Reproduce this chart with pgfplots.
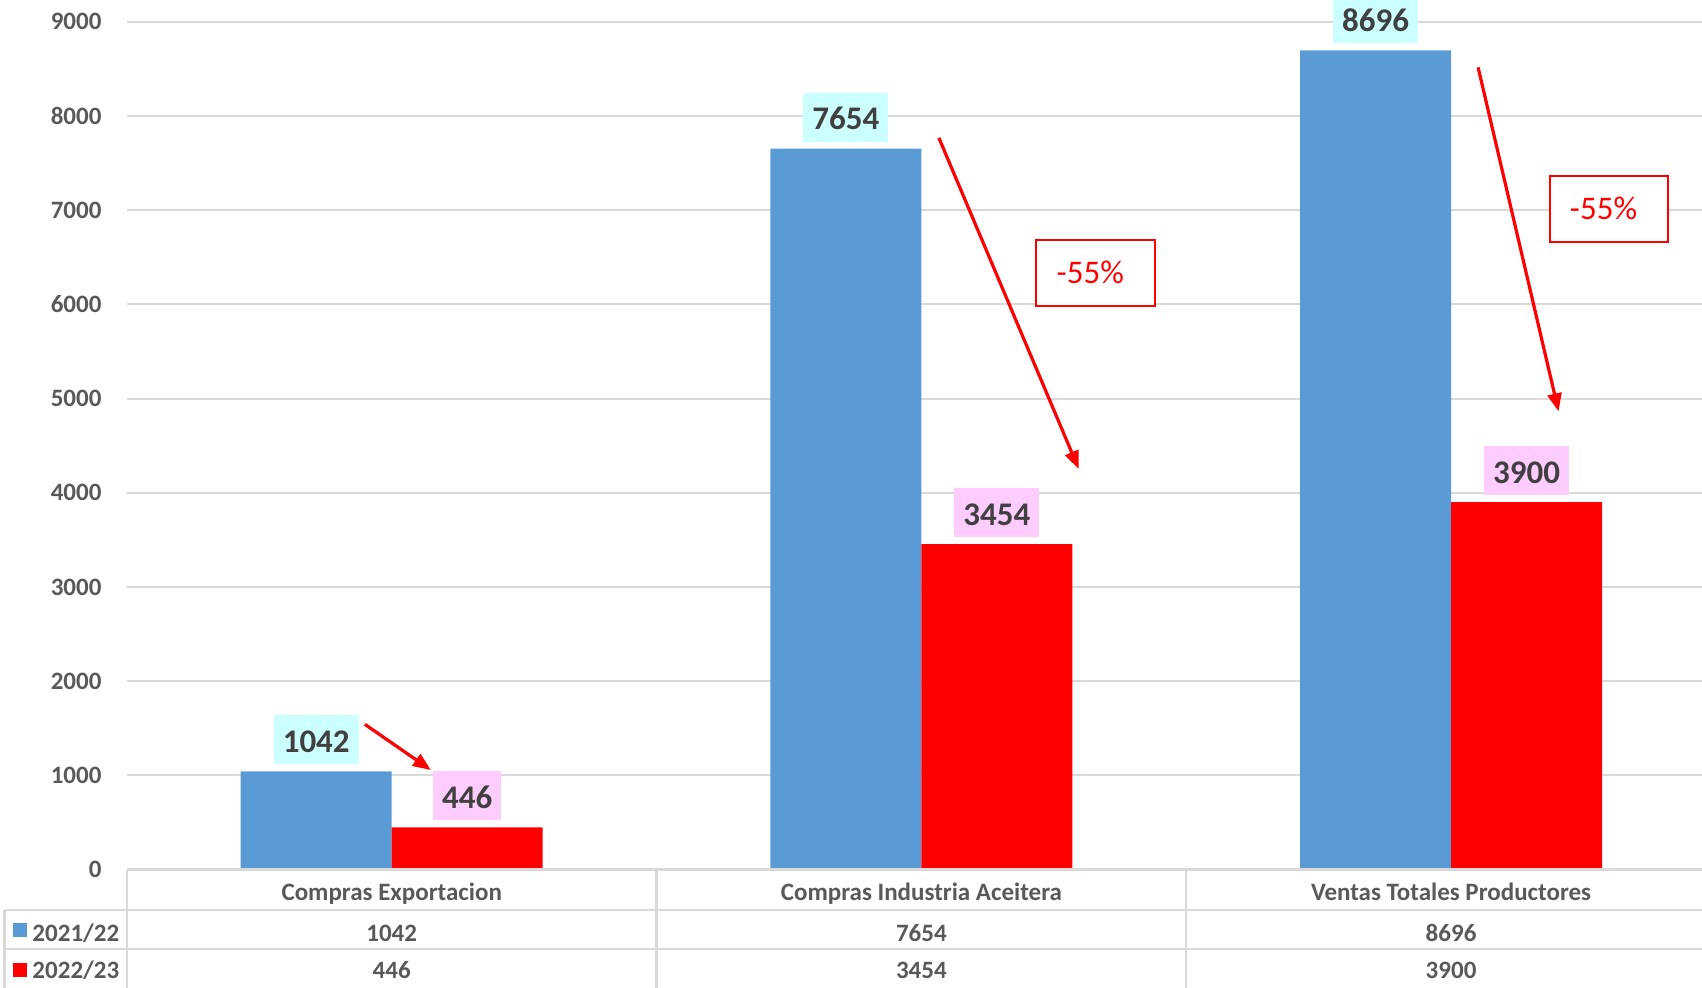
\documentclass[border=0pt]{standalone}
\usepackage{pgfplots}
\pgfplotsset{compat=1.18}
\usepackage{fontspec}
\setmainfont{Carlito}
\usetikzlibrary{arrows.meta}
\definecolor{barblue}{HTML}{5B9BD5}
\definecolor{barred}{HTML}{FF0000}
\definecolor{labcyan}{HTML}{CCFFFF}
\definecolor{labpink}{HTML}{FFCCFF}
\definecolor{gridgray}{HTML}{D9D9D9}
\definecolor{tickgray}{HTML}{595959}
\definecolor{labtext}{HTML}{404040}
\newcommand{\tabfont}{\fontsize{12.5}{15}\selectfont\bfseries}
\begin{document}
\begin{tikzpicture}
\begin{axis}[
  width=794.5pt, height=423.9pt, scale only axis,
  xmin=-0.5, xmax=2.5, ymin=0, ymax=9000,
  ybar=0pt, bar width=75.5pt,
  axis line style={draw=none},
  xtick=\empty,
  ytick={0,1000,...,9000},
  ymajorgrids, grid style={gridgray, line width=1pt},
  major tick style={draw=none},
  scaled y ticks=false,
  /pgf/number format/1000 sep={},
  /pgf/number format/assume math mode=true,
  yticklabel style={font=\tabfont, text=tickgray, inner xsep=0pt, xshift=-12.5pt},
  clip=false,
  nodes near coords,
  point meta=explicit symbolic,
  every node near coord/.append style={anchor=south, yshift=3.5pt, inner xsep=4.5pt, inner ysep=6pt, text height=12.5pt, text depth=0pt, font=\fontsize{16.5}{20}\selectfont\bfseries, text=labtext, outer sep=0pt},
]
\addplot[fill=barblue, draw=none, every node near coord/.append style={fill=labcyan}]
  coordinates {(0,1042)[1042] (1,7654)[7654] (2,8696)[8696]};
\addplot[fill=barred, draw=none, every node near coord/.append style={fill=labpink}]
  coordinates {(0,446)[446] (1,3454)[3454] (2,3900)[3900]};

% annotation arrows
\draw[barred, line width=1.6pt, -{Triangle[length=9pt,width=7pt]}] (axis cs:-0.0506,1541) -- (axis cs:0.074,1056);
\draw[barred, line width=1.6pt, -{Triangle[length=9pt,width=7pt]}] (axis cs:1.033,7767) -- (axis cs:1.297,4252);
\draw[barred, line width=1.6pt, -{Triangle[length=9pt,width=7pt]}] (axis cs:2.051,8516) -- (axis cs:2.203,4863);
\node[draw=barred, fill=white, line width=1pt, minimum width=59.4pt, minimum height=32.9pt, inner sep=0pt] at (axis cs:1.329,6335) {};
\node[text=barred, font=\fontsize{16.5}{20}\selectfont, inner sep=0pt, xshift=-2.7pt] at (axis cs:1.329,6335) {-55\%};
\node[draw=barred, fill=white, line width=1pt, minimum width=59.4pt, minimum height=32.9pt, inner sep=0pt] at (axis cs:2.298,7016) {};
\node[text=barred, font=\fontsize{16.5}{20}\selectfont, inner sep=0pt, xshift=-2.7pt] at (axis cs:2.298,7016) {-55\%};

% data table
\draw[gridgray, line width=1.5pt] (axis cs:-0.5,0) -- (axis cs:2.5,0);
\draw[gridgray, line width=1.25pt] (axis cs:-0.731,-430) -- (axis cs:2.5,-430);
\draw[gridgray, line width=1.25pt] (axis cs:-0.731,-844) -- (axis cs:2.5,-844);
\draw[gridgray, line width=1.25pt] (axis cs:-0.5,0) -- (axis cs:-0.5,-1260);
\draw[gridgray, line width=1.25pt] (axis cs:-0.731,-430) -- (axis cs:-0.731,-1260);
\draw[gridgray, line width=1.25pt] (axis cs:0.5,0) -- (axis cs:0.5,-1260);
\draw[gridgray, line width=1.25pt] (axis cs:1.5,0) -- (axis cs:1.5,-1260);

\node[anchor=base, inner sep=0pt, font=\tabfont, text=tickgray] at (axis cs:0,-334) {Compras Exportacion};
\node[anchor=base, inner sep=0pt, font=\tabfont, text=tickgray] at (axis cs:1,-334) {Compras Industria Aceitera};
\node[anchor=base, inner sep=0pt, font=\tabfont, text=tickgray] at (axis cs:2,-334) {Ventas Totales Productores};

\node[anchor=base, inner sep=0pt, font=\tabfont, text=tickgray] at (axis cs:0,-759) {1042};
\node[anchor=base, inner sep=0pt, font=\tabfont, text=tickgray] at (axis cs:1,-759) {7654};
\node[anchor=base, inner sep=0pt, font=\tabfont, text=tickgray] at (axis cs:2,-759) {8696};
\node[anchor=base, inner sep=0pt, font=\tabfont, text=tickgray] at (axis cs:0,-1162) {446};
\node[anchor=base, inner sep=0pt, font=\tabfont, text=tickgray] at (axis cs:1,-1162) {3454};
\node[anchor=base, inner sep=0pt, font=\tabfont, text=tickgray] at (axis cs:2,-1162) {3900};

\fill[barblue] (axis cs:-0.7025,-642) ++(-3.5pt,-3.5pt) rectangle ++(7pt,7pt);
\fill[barred] (axis cs:-0.7025,-1067) ++(-3.5pt,-3.5pt) rectangle ++(7pt,7pt);
\node[anchor=base west, inner sep=0pt, font=\tabfont, text=tickgray] at (axis cs:-0.679,-759) {2021/22};
\node[anchor=base west, inner sep=0pt, font=\tabfont, text=tickgray] at (axis cs:-0.679,-1162) {2022/23};
\end{axis}
\pgfresetboundingbox
\useasboundingbox (-63.45pt,-58.75pt) rectangle (787.55pt,434.75pt);
\end{tikzpicture}
\end{document}
